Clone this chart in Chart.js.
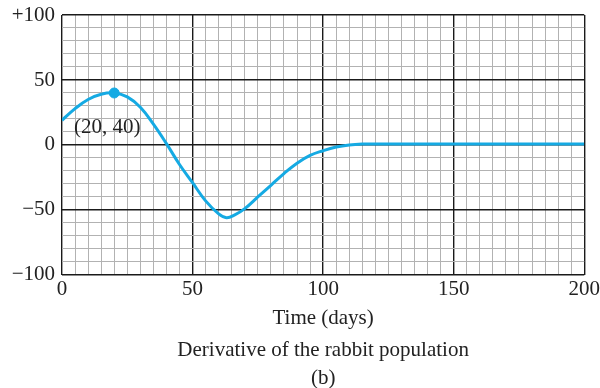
<!DOCTYPE html>
<html>
<head>
<meta charset="utf-8">
<script src="https://cdn.jsdelivr.net/npm/chart.js@4.4.1/dist/chart.umd.min.js"></script>
<style>
  html, body { margin: 0; padding: 0; background: #fff; }
  canvas { display: block; }
</style>
</head>
<body>
<canvas id="chart" width="600" height="388"></canvas>
<script>
// rate of change of the rabbit population
const days = [0, 5, 10, 15, 20, 25, 30, 35, 40, 45, 50, 55, 60, 63, 66, 70, 75, 80, 85, 90, 95, 100, 105, 110, 115, 120, 130, 140, 150, 160, 170, 180, 190, 200];
const rate = [19, 28, 35, 39, 40, 37, 29, 16, 1, -15, -29, -43, -53, -56, -54, -49, -40, -31, -22, -14, -8, -4.4, -1.6, 0, 0.7, 0.8, 0.8, 0.8, 0.8, 0.8, 0.8, 0.8, 0.8, 0.8];

const peakDay = [20];
const peakRate = [40];
const peakLabel = '(20, 40)';

const xTicksLabelled = [0, 50, 100, 150, 200];
const yTicksLabelled = [-100, -50, 0, 50, 100];

const blue = '#15aae3';
const serif = "'Liberation Serif', 'DejaVu Serif', serif";

const fmtY = v => v === 100 ? '+100' : (v < 0 ? '\u2212' + Math.abs(v) : String(v));
const major = v => v % 50 === 0;

/* draws the "(20, 40)" note under the marked point */
const peakNote = {
  id: 'peakNote',
  afterDatasetsDraw(chart) {
    const { ctx, scales: { x, y } } = chart;
    ctx.save();
    ctx.font = '21px ' + serif;
    ctx.fillStyle = '#222';
    ctx.textAlign = 'center';
    ctx.textBaseline = 'middle';
    ctx.fillText(peakLabel, x.getPixelForValue(peakDay[0]) - 7, y.getPixelForValue(peakRate[0]) + 34);
    ctx.restore();
  }
};

new Chart(document.getElementById('chart'), {
  type: 'line',
  data: {
    datasets: [
      {
        data: days.map((d, i) => ({ x: d, y: rate[i] })),
        borderColor: blue,
        borderWidth: 3,
        pointRadius: 0,
        tension: 0.4,
        fill: false
      },
      {
        data: peakDay.map((d, i) => ({ x: d, y: peakRate[i] })),
        showLine: false,
        pointRadius: 5,
        pointBackgroundColor: blue,
        pointBorderColor: blue
      }
    ]
  },
  options: {
    responsive: false,
    animation: false,
    layout: { padding: { top: 15, right: 15, left: 0, bottom: 0 } },
    plugins: {
      legend: { display: false },
      tooltip: { enabled: false },
      title: {
        display: true,
        position: 'bottom',
        fullSize: false,
        text: ['Derivative of the rabbit population', '(b)'],
        color: '#222',
        font: { family: serif, size: 21, weight: 'normal', lineHeight: 1.333 },
        padding: { top: 4.5, bottom: -4 }
      }
    },
    scales: {
      x: {
        type: 'linear',
        min: 0, max: 200,
        border: { display: false },
        ticks: {
          stepSize: 5,
          autoSkip: false,
          maxRotation: 0,
          padding: 0,
          color: '#222',
          font: { family: serif, size: 21, lineHeight: 1.35 },
          callback: v => xTicksLabelled.includes(v) ? String(v) : ''
        },
        grid: {
          drawTicks: false,
          color: c => major(c.tick.value) ? '#1a1a1a' : '#b2b2b2',
          lineWidth: c => major(c.tick.value) ? 1.4 : 1
        },
        title: {
          display: true,
          text: 'Time (days)',
          color: '#222',
          font: { family: serif, size: 21, lineHeight: 1.2 },
          padding: { top: 3, bottom: 0 }
        }
      },
      y: {
        min: -100, max: 100,
        border: { display: false },
        afterFit: s => { s.width = 62; },
        ticks: {
          stepSize: 10,
          autoSkip: false,
          padding: 7,
          color: '#222',
          font: { family: serif, size: 21, lineHeight: 0.6 },
          callback: v => yTicksLabelled.includes(v) ? fmtY(v) : ''
        },
        grid: {
          drawTicks: false,
          color: c => major(c.tick.value) ? '#1a1a1a' : '#b2b2b2',
          lineWidth: c => major(c.tick.value) ? 1.4 : 1
        }
      }
    }
  },
  plugins: [peakNote]
});
</script>
</body>
</html>
